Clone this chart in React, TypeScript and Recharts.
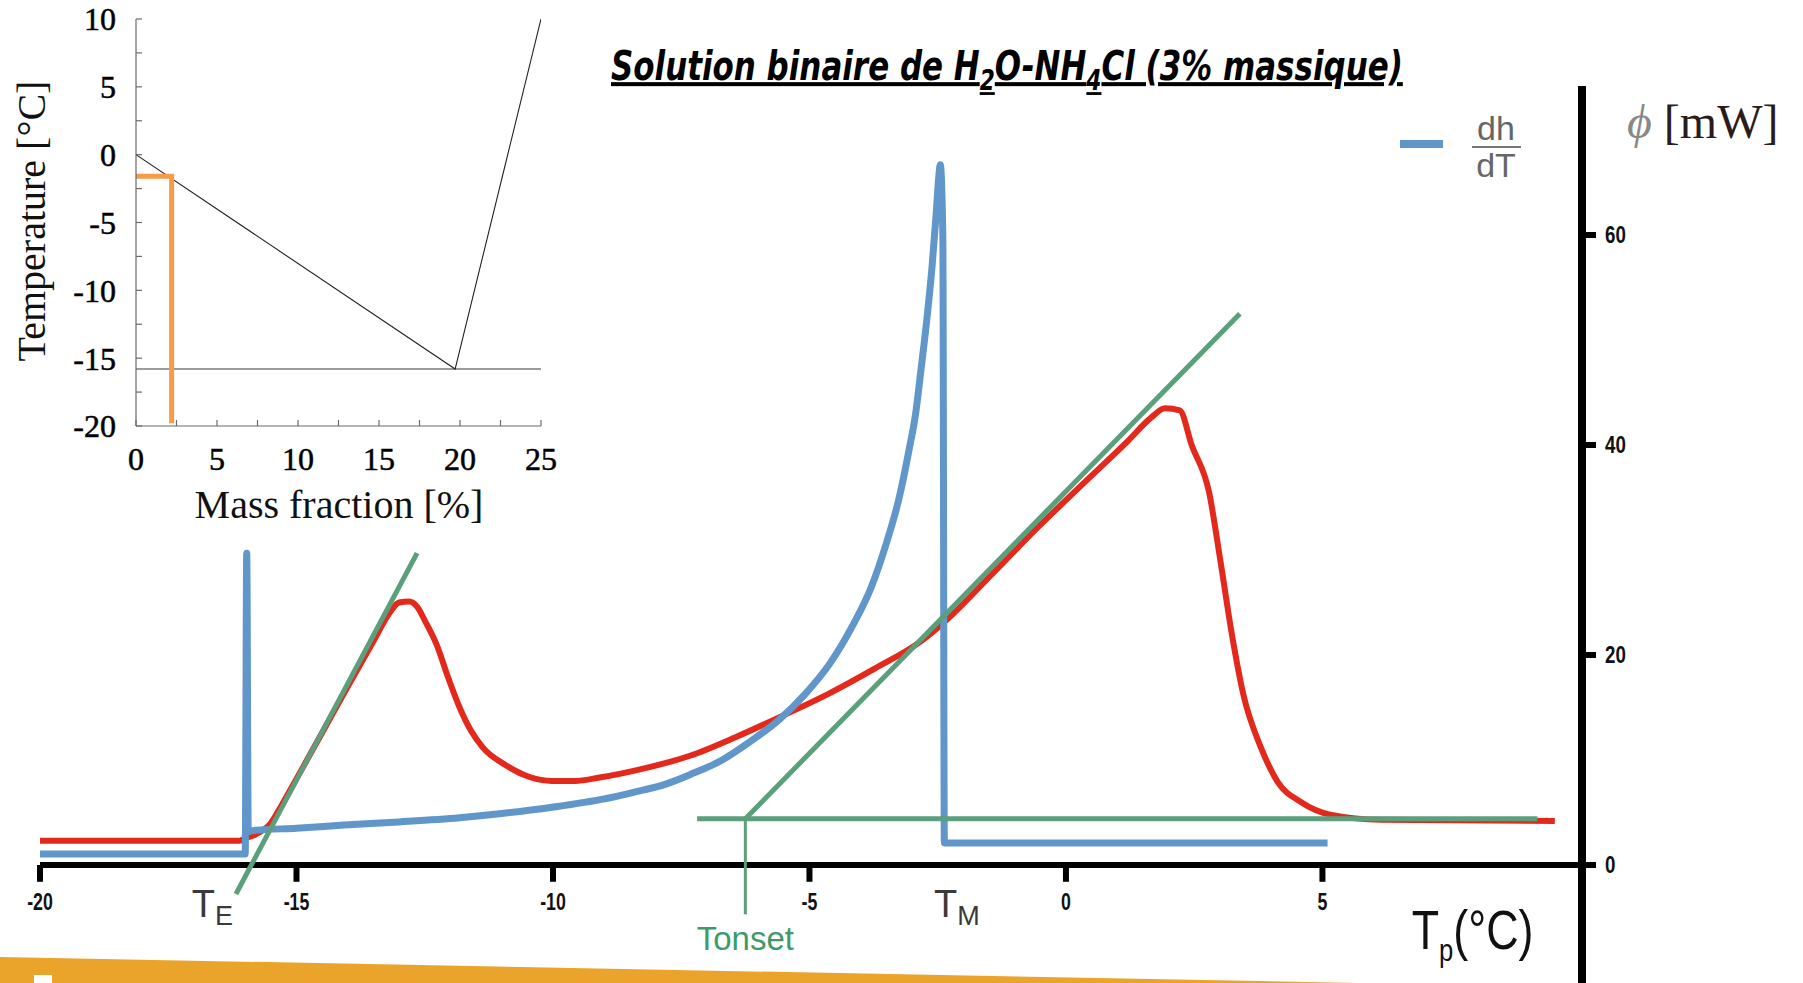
import { ComposedChart, Line, XAxis, YAxis, ReferenceLine, ReferenceDot } from 'recharts';

// DSC heat flow (red): plate temperature in °C, flow in mW
const dscTemp = [
  -20, -16.12, -16.02, -15.8, -15.5, -15.3, -15.0, -14.5, -14.0, -13.5, -13.2, -13.0, -12.8, -12.65, -12.49,
  -12.27, -12.04, -11.82, -11.6, -11.37, -10.92, -10.47, -10.02, -9.57, -9.12, -8.22, -7.33, -6.43, -5.53,
  -4.63, -3.73, -2.83, -2.38, -1.48, -0.58, 0.31, 1.21, 1.66, 1.93, 2.22, 2.45, 2.79, 3.01, 3.24, 3.46, 3.8,
  4.13, 4.58, 5.15, 6.16, 9.53,
];
const dscFlow = [
  2.3, 2.3, 2.5, 2.9, 4.0, 5.6, 8.2, 12.6, 17.0, 21.3, 23.9, 25.0, 25.1, 24.6, 23.2,
  21.0, 17.8, 15.0, 12.8, 11.2, 9.5, 8.4, 8.0, 8.0, 8.3, 9.2, 10.4, 12.2, 14.2,
  16.3, 18.7, 21.3, 23.1, 27.5, 32.0, 36.2, 40.4, 42.6, 43.5, 43.3, 40.0, 35.5, 29.0, 21.8, 16.2, 11.2,
  7.9, 6.0, 4.8, 4.3, 4.2,
];

// enthalpy derivative dh/dT (blue)
const dhdtTemp = [
  -20, -16.0, -15.97, -15.94, -15.8, -15.0, -14.07, -13.0, -11.82, -11.0, -10.02, -9.0, -8.45, -7.8, -7.33,
  -6.7, -6.2, -5.6, -5.08, -4.6, -4.18, -3.8, -3.51, -3.25, -3.06, -2.93, -2.83, -2.7, -2.61, -2.53, -2.48,
  -2.45, -2.4, -2.37, 5.1,
];
const dhdtValue = [
  1.05, 1.05, 29.7, 3.2, 3.3, 3.5, 3.8, 4.1, 4.5, 4.9, 5.5, 6.3, 6.9, 7.7, 8.6,
  10.0, 11.6, 13.8, 16.3, 19.2, 22.6, 26.4, 30.5, 35.0, 39.5, 43.0, 47.0, 52.5, 57.0, 62.0, 65.5,
  66.7, 60.0, 2.1, 2.1,
];

// construction lines (green)
const eutecticTangentTemp = [-16.18, -12.65];
const eutecticTangentFlow = [-2.76, 29.7];
const meltTangentTemp = [-6.25, 3.39];
const meltTangentFlow = [4.4, 52.5];
const baselineTemp = [-7.19, 9.19];
const baselineFlow = [4.4, 4.4];
const onsetTemp = [-6.25, -6.25];
const onsetFlow = [4.4, -4.7];

const tempTicks = [-20, -15, -10, -5, 0, 5];
const flowTicks = [0, 20, 40, 60];

// phase diagram: mass fraction (%) vs temperature (°C)
const liquidusFraction = [0, 19.7, 25];
const liquidusTemp = [0, -15.8, 10];
const eutecticFraction = [0, 25];
const eutecticTemp = [-15.8, -15.8];
const sampleFraction = [0, 2.2, 2.2];
const sampleTemp = [-1.6, -1.6, -19.8];
const fractionTicks = [0, 2.5, 5, 7.5, 10, 12.5, 15, 17.5, 20, 22.5, 25];
const phaseTempTicks = [-20, -17.5, -15, -12.5, -10, -7.5, -5, -2.5, 0, 2.5, 5, 7.5, 10];

const BLUE = '#6096c9';
const RED = '#e3291b';
const GREEN = '#5b9f7d';
const ORANGE = '#f79a4a';
const NARROW = '"Liberation Sans Narrow", "Arial Narrow", "DejaVu Sans Condensed", sans-serif';
const SANS = '"Liberation Sans", Arial, sans-serif';
const SERIF = '"Liberation Serif", "Times New Roman", serif';

const pairs = (xs: number[], ys: number[]) => xs.map((t, i) => ({ t, v: ys[i] }));

type Part = { text: string; size: number; dy?: number };

// text made of pieces (main letter + subscript ...) anchored on a reference dot,
// optionally squeezed horizontally to mimic a condensed face
const pieces = (parts: Part[], fill: string, family: string, anchor = 'start', squeeze = 1, weight = 400) =>
  ({ viewBox }: any) => {
    const x = viewBox.x + viewBox.width / 2;
    const y = viewBox.y + viewBox.height / 2;
    return (
      <text
        transform={`translate(${x} ${y}) scale(${squeeze} 1)`}
        fill={fill}
        fontFamily={family}
        fontWeight={weight}
        textAnchor={anchor}
      >
        {parts.map((p, i) => (
          <tspan key={i} fontSize={p.size} dy={p.dy ?? 0}>
            {p.text}
          </tspan>
        ))}
      </text>
    );
  };

const RightTick = ({ x, y, payload }: any) => (
  <text transform={`translate(${x} ${y + 8}) scale(0.78 1)`} fontSize={24} fontWeight={700} fill="#111" fontFamily={SANS}>
    {payload.value}
  </text>
);

function MainChart() {
  const line = (key: string, data: { t: number; v: number }[], color: string, width: number, curve: 'linear' | 'monotone' = 'linear') => (
    <Line
      key={key}
      data={data}
      dataKey="v"
      type={curve}
      stroke={color}
      strokeWidth={width}
      strokeLinejoin="round"
      dot={false}
      activeDot={false}
      isAnimationActive={false}
    />
  );
  return (
    <ComposedChart width={1803} height={983} margin={{ top: 86, right: 161, bottom: 0, left: 40 }}>
      <XAxis type="number" dataKey="t" domain={[-20, 10.06]} hide allowDataOverflow />
      <YAxis
        orientation="right"
        type="number"
        domain={[-11.24, 74.19]}
        ticks={flowTicks}
        interval={0}
        width={60}
        allowDataOverflow
        axisLine={{ stroke: '#000', strokeWidth: 8 }}
        tickLine={{ stroke: '#000', strokeWidth: 6 }}
        tickSize={14}
        tickMargin={9}
        tick={<RightTick />}
      />
      <ReferenceLine y={0} stroke="#000" strokeWidth={6} />
      {tempTicks.map((t) => (
        <ReferenceLine
          key={`tick-${t}`}
          segment={[{ x: t, y: 0 }, { x: t, y: -1.6 }]}
          stroke="#000"
          strokeWidth={6}
        />
      ))}
      {tempTicks.map((t) => (
        <ReferenceDot
          key={`lbl-${t}`}
          x={t}
          y={-4.3}
          r={1}
          fill="none"
          stroke="none"
          label={{ content: pieces([{ text: String(t), size: 24 }], '#111', SANS, 'middle', 0.74, 700) }}
        />
      ))}

      {line('dsc', pairs(dscTemp, dscFlow), RED, 6, 'monotone')}
      {line('dhdt', pairs(dhdtTemp, dhdtValue), BLUE, 7, 'monotone')}
      {line('tan-e', pairs(eutecticTangentTemp, eutecticTangentFlow), GREEN, 5)}
      {line('tan-m', pairs(meltTangentTemp, meltTangentFlow), GREEN, 5)}
      {line('base', pairs(baselineTemp, baselineFlow), GREEN, 5)}
      {line('onset', pairs(onsetTemp, onsetFlow), GREEN, 3)}

      <ReferenceDot x={-17.04} y={-4.95} r={1} fill="none" stroke="none"
        label={{ content: pieces([{ text: 'T', size: 38 }, { text: 'E', size: 27, dy: 8 }], '#3a3a3a', SANS) }} />
      <ReferenceDot x={-2.57} y={-4.95} r={1} fill="none" stroke="none"
        label={{ content: pieces([{ text: 'T', size: 38 }, { text: 'M', size: 27, dy: 8 }], '#3a3a3a', SANS) }} />
      <ReferenceDot x={-6.25} y={-8.1} r={1} fill="none" stroke="none"
        label={{ content: pieces([{ text: 'Tonset', size: 33 }], '#3f9a6a', SANS, 'middle') }} />
      <ReferenceDot x={6.74} y={-8.0} r={1} fill="none" stroke="none"
        label={{
          content: pieces(
            [{ text: 'T', size: 56 }, { text: 'p', size: 32, dy: 12 }, { text: '(°C)', size: 56, dy: -12 }],
            '#111',
            SANS,
            'start',
            0.8,
          ),
        }} />
    </ComposedChart>
  );
}

function PhaseDiagram() {
  const frame = { stroke: '#6b6b6b', strokeWidth: 1.2 };
  const major = (v: number) => (v % 5 === 0 ? String(v) : '');
  const tickFont = { fontSize: 32, fill: '#000', stroke: '#000', strokeWidth: 0.5, fontFamily: SERIF };
  return (
    <ComposedChart width={600} height={540} margin={{ top: 19, right: 59, bottom: 64, left: 66 }}>
      <XAxis type="number" dataKey="t" domain={[0, 25]} ticks={fractionTicks} interval={0} allowDataOverflow
        height={50} axisLine={frame} tickLine={frame} tickSize={-6} tickMargin={27} tickFormatter={major} tick={tickFont} />
      <XAxis xAxisId="top" orientation="top" type="number" dataKey="t" domain={[0, 25]} ticks={fractionTicks} interval={0}
        allowDataOverflow height={0} axisLine={frame} tickLine={frame} tickSize={-6} tick={false} />
      <YAxis type="number" domain={[-20, 10]} ticks={phaseTempTicks} interval={0} allowDataOverflow width={70}
        axisLine={frame} tickLine={frame} tickSize={-6} tickMargin={26} tickFormatter={major} tick={tickFont} />
      <YAxis yAxisId="right" orientation="right" type="number" domain={[-20, 10]} ticks={phaseTempTicks} interval={0}
        allowDataOverflow width={0} axisLine={frame} tickLine={frame} tickSize={-6} tick={false} />
      <Line data={pairs(eutecticFraction, eutecticTemp)} dataKey="v" type="linear" stroke="#7a7a7a" strokeWidth={1.5}
        dot={false} activeDot={false} isAnimationActive={false} />
      <Line data={pairs(liquidusFraction, liquidusTemp)} dataKey="v" type="linear" stroke="#222" strokeWidth={1.1}
        dot={false} activeDot={false} isAnimationActive={false} />
      <Line data={pairs(sampleFraction, sampleTemp)} dataKey="v" type="linear" stroke={ORANGE} strokeWidth={5}
        dot={false} activeDot={false} isAnimationActive={false} />
    </ComposedChart>
  );
}

export default function App() {
  return (
    <div style={{ position: 'absolute', left: 0, top: 0, width: 1803, height: 983, background: '#fff', overflow: 'hidden' }}>
      {/* slide footer band */}
      <svg width={1803} height={983} style={{ position: 'absolute', left: 0, top: 0 }}>
        <polygon points="0,957 1357,983 0,983" fill="#eaa42b" />
        <rect x={34} y={975} width={18} height={8} fill="#fff" />
      </svg>
      <div style={{ position: 'absolute', left: 0, top: 0 }}>
        <MainChart />
      </div>
      <div style={{ position: 'absolute', left: 0, top: 0 }}>
        <PhaseDiagram />
      </div>
      <svg width={1803} height={983} style={{ position: 'absolute', left: 0, top: 0, pointerEvents: 'none' }}>
        <text transform="translate(611 80) scale(0.86 1)" fontFamily={NARROW} fontWeight={700} fontStyle="italic"
          fontSize={40} fill="#000" style={{ textDecoration: 'underline' }}>
          Solution binaire de H<tspan fontSize={28} dy={10}>2</tspan>
          <tspan dy={-10}>O-NH</tspan>
          <tspan fontSize={28} dy={10}>4</tspan>
          <tspan dy={-10}>Cl (3% massique)</tspan>
        </text>

        <rect x={1400} y={140} width={43} height={8} fill={BLUE} />
        <text x={1496} y={140} textAnchor="middle" fontFamily={SANS} fontSize={34} fill="#666">dh</text>
        <line x1={1472} x2={1521} y1={147} y2={147} stroke="#777" strokeWidth={2} />
        <text x={1496} y={177} textAnchor="middle" fontFamily={SANS} fontSize={34} fill="#666">dT</text>

        <text x={1627} y={138} fontFamily={SERIF} fontSize={48} fill="#2a1c1c">
          <tspan fontStyle="italic" fill="#888">ϕ</tspan> [mW]
        </text>

        <text transform="translate(45 221) rotate(-90)" textAnchor="middle" fontFamily={SERIF} fontSize={40} fill="#111">
          Temperature [°C]
        </text>
        <text x={339} y={518} textAnchor="middle" fontFamily={SERIF} fontSize={40} fill="#111">
          Mass fraction [%]
        </text>
      </svg>
    </div>
  );
}
